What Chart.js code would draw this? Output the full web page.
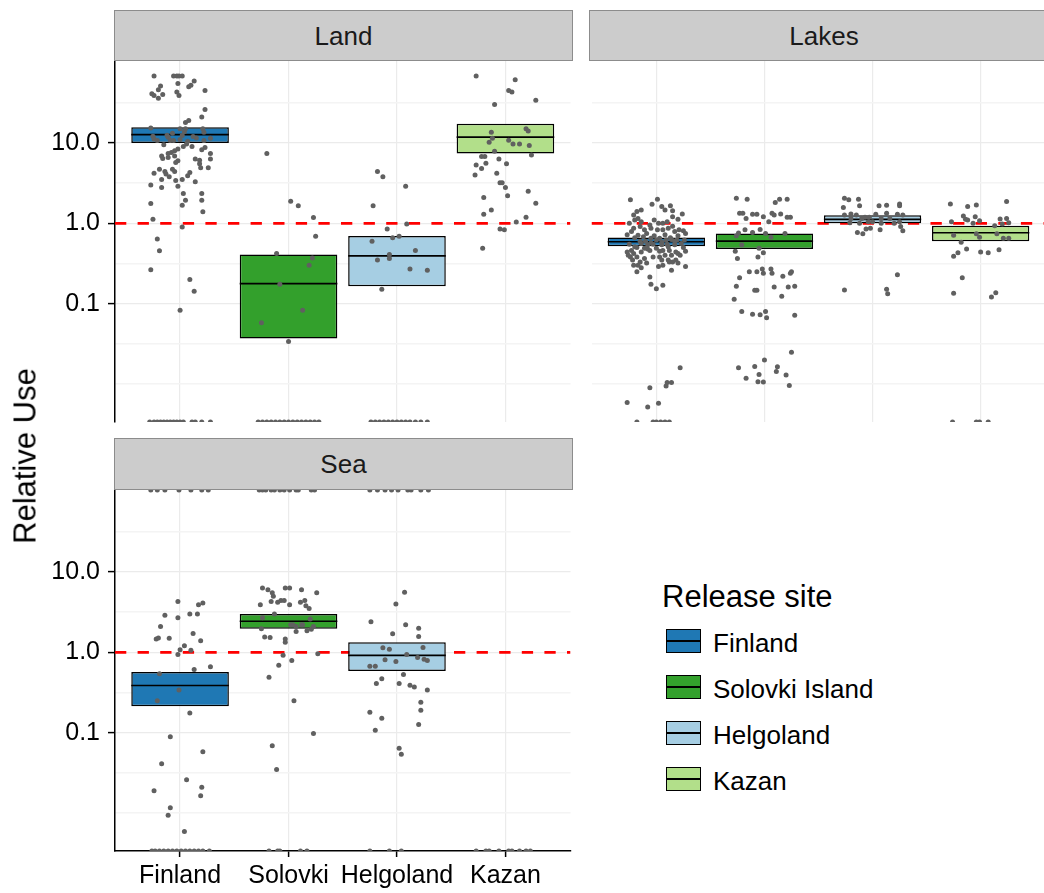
<!DOCTYPE html>
<html>
<head>
<meta charset="utf-8">
<script src="https://cdn.jsdelivr.net/npm/chart.js@4.4.1/dist/chart.umd.min.js"></script>
<style>
html,body{margin:0;padding:0;background:#fff;}
body{width:1044px;height:893px;overflow:hidden;position:relative;font-family:"Liberation Sans",Arial,Helvetica,sans-serif;}
canvas{position:absolute;}
.strip{position:absolute;box-sizing:border-box;background:#CCCCCC;border:1px solid #8C8C8C;color:#1A1A1A;font-size:26px;line-height:1;display:flex;align-items:center;justify-content:center;}
#ytitle{position:absolute;left:25px;top:456px;transform:translate(-50%,-50%) rotate(-90deg);font-size:31px;line-height:1;white-space:nowrap;color:#000;}
.ltitle{position:absolute;left:662px;top:581px;font-size:31px;line-height:1;color:#000;white-space:nowrap;}
.key{position:absolute;left:666px;width:35px;height:24px;box-sizing:border-box;border:1.3px solid #000;}
.key .mid{position:absolute;left:0;right:0;top:50%;height:1.4px;margin-top:-0.7px;background:#000;}
.llabel{position:absolute;left:713px;font-size:26px;line-height:1;color:#000;white-space:nowrap;}
</style>
</head>
<body>
<canvas id="land" width="573" height="441" style="left:0;top:21px"></canvas>
<canvas id="lakes" width="459" height="441" style="left:589px;top:21px"></canvas>
<canvas id="sea" width="573" height="441" style="left:0;top:450px"></canvas>
<div class="strip" style="left:114px;top:10px;width:459px;height:51px">Land</div>
<div class="strip" style="left:589px;top:10px;width:470px;height:51px">Lakes</div>
<div class="strip" style="left:114px;top:438px;width:459px;height:52px">Sea</div>
<div id="ytitle">Relative Use</div>
<div id="legend"></div>
<script>
// ---------- categories, ticks ----------
const categories = ['Finland', 'Solovki', 'Helgoland', 'Kazan'];
const siteNames = ['Finland', 'Solovki Island', 'Helgoland', 'Kazan'];
const siteColors = ['#1F78B4', '#33A02C', '#A6CEE3', '#B2DF8A'];
const yMajorTicks = [0.1, 1, 10];
const yTickLabels = ['0.1', '1.0', '10.0'];
const yMinorTicks = [0.01, 0.0316, 0.316, 3.16, 31.6];
const yMin = 0.00338;
const yMax = 104.5;
const refValue = 1;

// ---------- box statistics (lower, middle, upper) ----------
const landQ1 = [10.0, 0.037, 0.165, 7.4];
const landMedian = [12.7, 0.178, 0.394, 11.8];
const landQ3 = [15.7, 0.41, 0.695, 17.3];
const lakesQ1 = [0.52, 0.478, 1.0, 0.60];
const lakesMedian = [0.59, 0.60, 1.12, 0.764];
const lakesQ3 = [0.668, 0.75, 1.26, 0.935];
const seaQ1 = [0.213, 1.96, 0.585, null];
const seaMedian = [0.387, 2.44, 0.917, null];
const seaQ3 = [0.568, 2.99, 1.33, null];

// ---------- individual observations: [jitter, value]; 0 = zero use, Infinity = infinite ratio ----------
const landFinland = [[-0.24,68],[-0.06,68],[-0.03,68],[-0.01,68],[0.02,68],[0.13,59],[0.10,52],[0.08,50],[-0.18,51],[-0.20,46],[-0.02,55],[-0.03,43],[-0.01,39],[-0.26,41],[-0.24,39],[-0.20,36],[-0.16,40],[0.23,45],[0.23,26],[0.20,21],[0.05,18],[0.08,19],[-0.27,15.3],[0,15],[0.05,15],[0.21,15],[0.22,13.6],[-0.25,12.1],[-0.24,11.2],[-0.21,10.7],[-0.11,11.8],[-0.09,10.7],[-0.06,10.7],[0,11.0],[0.02,12.4],[0.07,10.5],[0.15,11.5],[0.22,10.7],[0.28,11.4],[-0.12,12.5],[-0.07,13.2],[0.12,12.0],[0.04,13.8],[0.06,9.7],[0.11,9.0],[0.03,9.0],[-0.02,8.4],[-0.05,8.0],[-0.08,7.6],[-0.11,7.4],[-0.17,6.9],[-0.16,6.4],[-0.11,6.6],[-0.05,6.9],[-0.15,9.5],[0.20,8.2],[0.23,8.8],[0.28,7.4],[0.28,6.3],[0.14,6.3],[0.18,6.1],[-0.02,6.0],[-0.04,5.7],[-0.19,4.7],[-0.14,4.4],[-0.13,4.1],[-0.07,4.7],[-0.05,4.4],[0.18,5.5],[0.19,4.9],[0.26,4.9],[-0.24,4.2],[0.09,4.3],[0.07,3.9],[0.02,3.5],[-0.04,3.4],[-0.10,3.8],[-0.17,3.5],[0.14,3.3],[-0.27,3.0],[-0.17,2.8],[-0.02,2.9],[0.03,2.35],[0.20,2.35],[0.05,1.94],[0.20,1.94],[0.02,1.68],[0.21,1.39],[-0.27,1.76],[-0.25,1.12],[0.02,0.90],[-0.21,0.64],[-0.19,0.455],[-0.27,0.264],[0.09,0.20],[0.13,0.143],[0,0.083],[-0.28,0],[-0.24,0],[-0.21,0],[-0.18,0],[-0.15,0],[-0.12,0],[-0.09,0],[-0.06,0],[-0.03,0],[0,0],[0.03,0],[0.11,0],[0.14,0],[0.20,0],[0.28,0]];
const landSolovki = [[-0.20,7.4],[0.02,1.88],[0.09,1.66],[0.23,1.18],[0.25,0.69],[-0.11,0.42],[0.22,0.37],[0.19,0.30],[-0.08,0.175],[0.13,0.083],[-0.25,0.058],[0,0.034],[-0.28,0],[-0.24,0],[-0.20,0],[-0.16,0],[-0.12,0],[-0.08,0],[-0.04,0],[0,0],[0.04,0],[0.08,0],[0.12,0],[0.16,0],[0.20,0],[0.24,0],[0.28,0]];
const landHelgoland = [[-0.18,4.4],[-0.13,3.8],[0.08,2.9],[-0.22,1.65],[0.09,0.98],[-0.09,0.85],[-0.23,0.60],[-0.04,0.66],[0.02,0.69],[0.17,0.46],[-0.07,0.41],[-0.07,0.365],[-0.18,0.35],[0.12,0.27],[0.28,0.26],[-0.14,0.151],[-0.24,0],[-0.20,0],[-0.16,0],[-0.12,0],[-0.08,0],[-0.04,0],[0,0],[0.04,0],[0.08,0],[0.12,0],[0.17,0],[0.22,0],[0.28,0]];
const landKazan = [[-0.27,68],[0.09,61],[0.03,45],[0.06,43],[0.28,34],[-0.10,30],[0.19,15],[0.21,14.1],[-0.13,13.6],[-0.12,11.4],[-0.15,10.2],[0.03,10.8],[0.07,9.7],[0.13,9.7],[0.22,9.3],[-0.10,7.9],[0.24,7.1],[-0.22,6.8],[-0.19,6.8],[-0.06,6.3],[-0.18,5.6],[0.01,5.5],[-0.27,5.3],[-0.22,4.8],[-0.28,4.0],[-0.08,4.2],[-0.05,3.2],[-0.03,3.2],[0,2.8],[0.02,2.2],[0.21,2.5],[0.28,1.78],[-0.20,2.1],[-0.13,1.47],[-0.20,1.30],[0.19,1.19],[0.10,1.04],[-0.05,0.85],[-0.01,0.83],[-0.21,0.49]];

const lakesFinland = [[-0.24,1.96],[0.01,2.0],[-0.04,1.73],[0.05,1.62],[0.13,1.66],[0.08,1.47],[0.15,1.43],[-0.18,1.40],[-0.21,1.27],[-0.14,1.47],[-0.17,1.15],[-0.20,1.10],[-0.25,1.0],[-0.14,1.05],[-0.02,1.10],[0.02,1.0],[0.06,1.0],[0.10,1.05],[0.15,1.21],[0.20,1.12],[0.24,1.31],[0.21,0.83],[0.25,0.81],[0.17,0.79],[0.11,0.87],[0.06,0.83],[0.01,0.83],[-0.05,0.87],[-0.11,0.83],[-0.15,0.91],[-0.21,0.87],[-0.23,0.79],[-0.17,0.71],[-0.09,0.75],[-0.05,0.65],[0.03,0.65],[0.09,0.62],[0.14,0.63],[0.19,0.62],[0.26,0.62],[-0.14,0.56],[-0.08,0.54],[0.05,0.54],[0.11,0.51],[0.17,0.54],[0.23,0.56],[-0.23,0.46],[-0.27,0.44],[-0.21,0.42],[-0.14,0.44],[-0.06,0.46],[0,0.49],[0.06,0.46],[0.12,0.46],[0.18,0.44],[0.27,0.45],[-0.24,0.38],[-0.18,0.38],[-0.11,0.365],[-0.03,0.38],[0.03,0.38],[0.08,0.40],[0.14,0.40],[0.20,0.42],[-0.21,0.30],[-0.15,0.33],[-0.09,0.32],[0.02,0.29],[0.06,0.30],[0.12,0.33],[0.14,0.26],[0.20,0.32],[0.27,0.29],[-0.18,0.25],[-0.14,0.28],[-0.06,0.215],[-0.05,0.175],[0,0.154],[0.06,0.17],[0.11,0.35],[0.05,0.35],[-0.17,0.30],[-0.26,0.40],[-0.20,0.51],[-0.11,0.49],[-0.03,0.55],[0.15,0.33],[0.18,0.35],[-0.10,0.60],[-0.05,0.57],[0,0.62],[0.05,0.58],[0.10,0.55],[-0.15,0.60],[0.20,0.70],[-0.20,0.66],[0.25,0.50],[-0.25,0.55],[-0.12,0.68],[0.13,0.66],[0.08,0.72],[-0.02,0.70],[0.17,0.60],[-0.18,0.50],[0.03,0.45],[-0.08,0.48],[0.22,0.40],[-0.22,0.35],[0.15,0.92],[-0.06,0.95],[0.27,0.75],[-0.27,0.72],[0.22,0.016],[0.10,0.0105],[0.14,0.0105],[0.09,0.0095],[-0.06,0.009],[-0.27,0.0059],[0.02,0.0058],[-0.08,0.0052],[-0.18,0],[-0.03,0],[0,0],[0.04,0],[0.08,0],[0.12,0]];
const lakesSolovki = [[-0.26,2.05],[-0.16,2.0],[0.10,1.81],[0.14,2.0],[0.21,2.0],[-0.23,1.33],[-0.20,1.33],[-0.17,1.15],[-0.11,1.30],[-0.07,1.30],[-0.01,1.21],[0.07,1.33],[0.09,1.27],[0.15,1.31],[0.21,1.19],[0.24,1.19],[0.04,1.05],[-0.04,0.84],[-0.11,0.77],[-0.18,0.83],[-0.24,0.76],[0.01,0.75],[0.06,0.67],[0.19,0.75],[-0.26,0.70],[-0.21,0.54],[-0.27,0.45],[-0.25,0.365],[-0.05,0.49],[-0.01,0.43],[-0.06,0.38],[-0.14,0.25],[-0.07,0.25],[-0.02,0.27],[-0.01,0.24],[0.06,0.27],[0.07,0.24],[0.17,0.22],[0.24,0.24],[0.25,0.25],[-0.23,0.21],[-0.26,0.165],[-0.09,0.147],[-0.07,0.147],[0.09,0.162],[0.22,0.162],[0.28,0.165],[0.16,0.124],[-0.28,0.114],[-0.21,0.080],[-0.11,0.074],[-0.04,0.073],[0.01,0.080],[0.02,0.067],[0.28,0.072],[0.25,0.025],[0,0.020],[-0.24,0.016],[-0.09,0.0166],[-0.17,0.0118],[-0.05,0.0132],[-0.06,0.0107],[-0.01,0.0106],[0.12,0.0165],[0.11,0.0144],[0.20,0.013],[0.23,0.0096]];
const lakesHelgoland = [[-0.26,2.05],[-0.22,1.96],[-0.13,2.0],[-0.12,1.66],[-0.27,1.57],[0.06,1.66],[0.13,1.68],[0.25,1.74],[0.25,1.66],[-0.26,1.27],[-0.20,1.31],[-0.15,1.27],[-0.20,1.15],[-0.10,1.15],[-0.07,1.19],[-0.03,1.19],[0.03,1.30],[0.08,1.15],[0.13,1.33],[0.16,1.15],[0.23,1.30],[0.28,1.27],[-0.21,1.02],[-0.12,1.0],[-0.04,1.05],[0,1.05],[0.08,1.0],[0.20,1.0],[0.25,1.05],[-0.06,0.85],[-0.02,0.87],[0.07,0.83],[-0.14,0.77],[-0.09,0.74],[0.26,0.91],[0.28,0.81],[0.23,0.23],[-0.26,0.148],[0.13,0.151],[0.14,0.133]];
const lakesKazan = [[-0.28,1.74],[-0.12,1.62],[-0.04,1.69],[0.24,1.87],[-0.27,1.05],[-0.16,1.23],[-0.14,1.12],[-0.12,1.10],[-0.07,1.0],[-0.05,1.21],[-0.01,1.08],[0.13,0.935],[0.18,1.13],[0.24,1.15],[0.26,1.02],[0.20,0.98],[-0.25,0.71],[-0.04,0.74],[-0.01,0.67],[0.15,0.74],[0.21,0.65],[0.26,0.65],[-0.18,0.58],[-0.13,0.48],[-0.21,0.43],[-0.25,0.39],[0,0.44],[0.07,0.43],[0.17,0.47],[-0.17,0.21],[-0.25,0.135],[0.10,0.121],[0.14,0.137],[-0.26,0],[-0.04,0],[-0.01,0],[0.07,0]];

const seaFinland = [[-0.02,4.3],[0.17,3.9],[0.21,4.1],[-0.14,2.9],[-0.02,2.7],[0.09,3.0],[0.16,3.0],[-0.18,2.1],[-0.22,1.47],[-0.20,1.51],[-0.10,1.5],[0.12,1.71],[0.19,1.39],[0.04,1.21],[0,1.08],[0.10,1.06],[-0.02,0.94],[0.28,0.66],[0.13,0.61],[-0.19,0.54],[-0.01,0.34],[-0.21,0.25],[0.09,0.176],[-0.09,0.089],[0.21,0.058],[-0.17,0.041],[0.06,0.026],[0.20,0.021],[-0.24,0.019],[0.19,0.0165],[-0.09,0.0117],[-0.11,0.0094],[0.04,0.0059],[-0.26,0],[-0.23,0],[-0.19,0],[-0.15,0],[-0.11,0],[-0.07,0],[-0.03,0],[0.01,0],[0.05,0],[0.09,0],[0.13,0],[0.17,0],[0.21,0],[0.27,0],[-0.27,Infinity],[-0.21,Infinity],[-0.14,Infinity],[-0.01,Infinity],[0.10,Infinity],[0.20,Infinity],[0.26,Infinity]];
const seaSolovki = [[-0.24,6.3],[-0.19,6.0],[-0.15,5.5],[-0.14,5.0],[-0.03,6.3],[0.01,6.3],[0.12,6.0],[0.26,5.5],[-0.26,3.9],[-0.16,4.3],[-0.10,4.2],[-0.07,4.4],[-0.04,4.4],[0.01,3.9],[0.11,4.2],[0.15,4.4],[0.16,3.8],[0.19,3.5],[-0.13,3.0],[-0.24,2.7],[-0.25,1.96],[-0.22,1.55],[-0.17,1.53],[-0.03,1.47],[-0.03,1.33],[0.02,2.2],[0.04,2.2],[0.07,1.81],[0.12,2.2],[0.17,1.85],[0.20,2.6],[0.21,1.94],[0.23,2.1],[0.13,2.2],[0.07,2.1],[-0.05,0.92],[0.03,0.79],[0.27,0.96],[-0.09,0.69],[-0.18,0.49],[0.05,0.25],[0.23,0.098],[-0.15,0.069],[-0.11,0.035],[-0.18,0],[-0.10,0],[-0.08,0],[0.11,0],[0.17,0],[-0.27,Infinity],[-0.24,Infinity],[-0.21,Infinity],[-0.16,Infinity],[-0.13,Infinity],[-0.08,Infinity],[-0.04,Infinity],[0.01,Infinity],[0.07,Infinity],[0.09,Infinity],[0.21,Infinity],[0.24,Infinity]];
const seaHelgoland = [[0.07,5.6],[-0.01,4.0],[-0.24,2.4],[0.08,2.2],[0.20,2.0],[-0.04,1.70],[0.20,1.57],[-0.13,1.14],[-0.07,1.09],[0.24,1.15],[0.09,0.94],[0.19,0.86],[-0.11,0.81],[-0.01,0.77],[0.25,0.82],[0.28,0.79],[-0.25,0.67],[-0.20,0.67],[0.06,0.53],[-0.14,0.47],[-0.19,0.41],[0.02,0.41],[0.12,0.39],[0.16,0.37],[0.28,0.34],[0.22,0.24],[0.22,0.19],[-0.25,0.18],[-0.14,0.151],[0.20,0.127],[-0.20,0.107],[0.02,0.064],[0.04,0.054],[-0.25,0],[-0.07,0],[0.04,0],[-0.25,Infinity],[-0.18,Infinity],[-0.11,Infinity],[-0.05,Infinity],[0.01,Infinity],[0.10,Infinity],[0.13,Infinity],[0.22,Infinity],[0.29,Infinity]];
const seaKazan = [[-0.27,0],[-0.18,0],[-0.15,0],[-0.06,0],[0.03,0],[0.06,0],[0.13,0],[0.19,0],[0.23,0]];

// ---------- chart construction ----------
const FONT = "'Liberation Sans', Arial, sans-serif";
const POINT_COLOR = '#606060';

// ggplot places zero (log -> -Inf) and Inf at the panel edges
function squish(v) {
  if (v <= 0) return yMin;
  if (!isFinite(v)) return yMax;
  return v;
}

const refLinePlugin = {
  id: 'refLine',
  beforeDatasetsDraw(chart) {
    const {ctx, chartArea: a, scales: {y}} = chart;
    const py = y.getPixelForValue(refValue);
    ctx.save();
    ctx.beginPath();
    ctx.rect(a.left, a.top, a.right - a.left, a.bottom - a.top);
    ctx.clip();
    ctx.strokeStyle = '#FF0000';
    ctx.lineWidth = 2.6;
    ctx.setLineDash([11.3, 11.3]);
    ctx.beginPath();
    ctx.moveTo(a.left, py);
    ctx.lineTo(a.right, py);
    ctx.stroke();
    ctx.restore();
  }
};

const medianPlugin = {
  id: 'medianLines',
  afterDatasetDraw(chart, args) {
    const ds = chart.data.datasets[args.index];
    if (!ds.medians) return;
    const {ctx, scales: {y}} = chart;
    ctx.save();
    ctx.strokeStyle = '#000';
    ctx.lineWidth = 1.6;
    args.meta.data.forEach((bar, i) => {
      const m = ds.medians[i];
      if (m == null) return;
      const py = y.getPixelForValue(m);
      ctx.beginPath();
      ctx.moveTo(bar.x - bar.width / 2, py);
      ctx.lineTo(bar.x + bar.width / 2, py);
      ctx.stroke();
    });
    ctx.restore();
  }
};

function buildPanel(canvasId, q1, med, q3, groups, cfg) {
  const boxData = [], boxColors = [], boxMedians = [];
  categories.forEach((c, i) => {
    if (q1[i] == null) return;
    boxData.push({x: i, y: [q1[i], q3[i]]});
    boxColors.push(siteColors[i]);
    boxMedians.push(med[i]);
  });
  const pts = [];
  groups.forEach((g, i) => g.forEach(([j, v]) => pts.push({x: i + j, y: squish(v)})));

  return new Chart(document.getElementById(canvasId), {
    type: 'scatter',
    data: {
      datasets: [
        {
          type: 'scatter', data: pts, order: 1, clip: 0,
          pointRadius: 2.5, pointBorderWidth: 0, pointHoverRadius: 2.5,
          backgroundColor: POINT_COLOR, pointBackgroundColor: POINT_COLOR
        },
        {
          type: 'bar', data: boxData, order: 2, clip: 0, medians: boxMedians,
          backgroundColor: boxColors, borderColor: '#000', borderWidth: 1.5, borderSkipped: false,
          categoryPercentage: 1.0, barPercentage: 0.9
        }
      ]
    },
    options: {
      responsive: false, animation: false, events: [], devicePixelRatio: 1,
      layout: {padding: {top: 40, bottom: cfg.showX ? 0 : 40, left: 0, right: 0}},
      plugins: {legend: {display: false}, tooltip: {enabled: false}},
      scales: {
        x: {
          type: 'linear', min: -0.6, max: 3.6, offset: false,
          afterBuildTicks: ax => { ax.ticks = categories.map((c, i) => ({value: i})); },
          afterFit: ax => { ax.height = cfg.showX ? 40 : 0; },
          ticks: {
            display: cfg.showX, autoSkip: false, maxRotation: 0, padding: 4, color: '#000',
            font: {size: 25, family: FONT},
            callback: v => categories[v]
          },
          grid: {offset: false, color: '#EBEBEB', lineWidth: 1.2, drawTicks: cfg.showX, tickLength: 6, tickColor: '#000', tickWidth: 1.5},
          border: {display: cfg.showX, color: '#000', width: 1.5}
        },
        y: {
          type: 'logarithmic', min: yMin, max: yMax, offset: false,
          afterBuildTicks: ax => {
            ax.ticks = yMinorTicks.map(v => ({value: v, isMajor: false}))
              .concat(yMajorTicks.map(v => ({value: v, isMajor: true})))
              .sort((a, b) => a.value - b.value);
          },
          afterFit: ax => { ax.width = cfg.showY ? 115 : 0; },
          ticks: {
            display: cfg.showY, autoSkip: false, padding: 8, color: '#000',
            font: {size: 25, family: FONT},
            callback: v => { const k = yMajorTicks.indexOf(v); return k >= 0 ? yTickLabels[k] : ''; }
          },
          grid: {
            offset: false,
            color: c => (c.tick && c.tick.isMajor) ? '#EBEBEB' : '#F4F4F4',
            lineWidth: c => (c.tick && c.tick.isMajor) ? 1.2 : 1.4,
            drawTicks: cfg.showY, tickLength: 7, tickWidth: 1.5,
            tickColor: c => (c.tick && c.tick.isMajor) ? '#000' : 'rgba(0,0,0,0)'
          },
          border: {display: cfg.showY, color: '#000', width: 1.5}
        }
      }
    },
    plugins: [refLinePlugin, medianPlugin]
  });
}

buildPanel('land', landQ1, landMedian, landQ3, [landFinland, landSolovki, landHelgoland, landKazan], {showY: true, showX: false});
buildPanel('lakes', lakesQ1, lakesMedian, lakesQ3, [lakesFinland, lakesSolovki, lakesHelgoland, lakesKazan], {showY: false, showX: false});
buildPanel('sea', seaQ1, seaMedian, seaQ3, [seaFinland, seaSolovki, seaHelgoland, seaKazan], {showY: true, showX: true});

// ---------- legend ----------
const legend = document.getElementById('legend');
const lt = document.createElement('div');
lt.className = 'ltitle';
lt.textContent = 'Release site';
legend.appendChild(lt);
siteNames.forEach((name, i) => {
  const key = document.createElement('div');
  key.className = 'key';
  key.style.top = (629 + 46 * i) + 'px';
  key.style.background = siteColors[i];
  const mid = document.createElement('div');
  mid.className = 'mid';
  key.appendChild(mid);
  legend.appendChild(key);
  const lab = document.createElement('div');
  lab.className = 'llabel';
  lab.style.top = (630 + 46 * i) + 'px';
  lab.textContent = name;
  legend.appendChild(lab);
});
</script>
</body>
</html>
